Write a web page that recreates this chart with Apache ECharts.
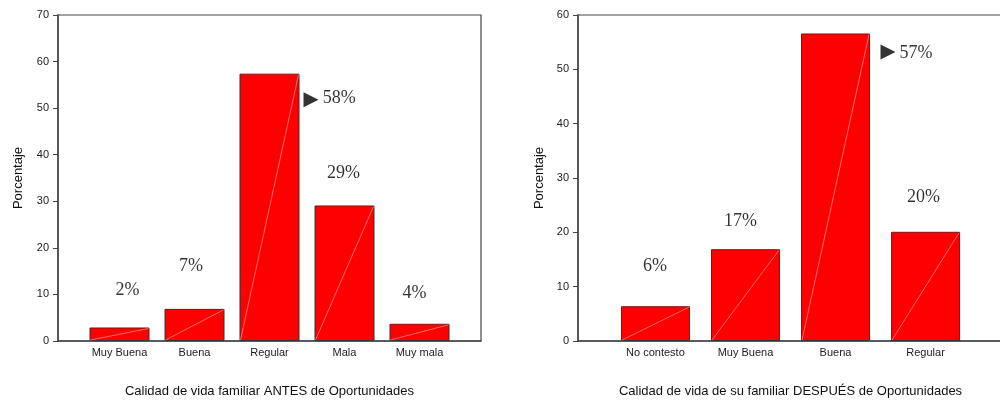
<!DOCTYPE html>
<html><head><meta charset="utf-8">
<script src="https://cdn.jsdelivr.net/npm/echarts@6/dist/echarts.min.js"></script>
<style>html,body{margin:0;padding:0;background:#fff}#c{width:1000px;height:400px}</style>
</head><body><div id="c"></div>
<script>
// Left chart data
const catsA = ['Muy Buena', 'Buena', 'Regular', 'Mala', 'Muy mala'];
const valsA = [2.9, 6.9, 57.4, 29.1, 3.7];
const labelsA = ['2%', '7%', '58%', '29%', '4%'];
const titleA = 'Calidad de vida familiar ANTES de Oportunidades';
// Right chart data
const catsB = ['No contesto', 'Muy Buena', 'Buena', 'Regular'];
const valsB = [6.4, 16.9, 56.6, 20.1];
const labelsB = ['6%', '17%', '57%', '20%'];
const titleB = 'Calidad de vida de su familiar DESPUÉS de Oportunidades';
const yName = 'Porcentaje';
const yTicksA = {min: 0, max: 70, interval: 10};
const yTicksB = {min: 0, max: 60, interval: 10};

// annotation anchors in data coordinates [x, y]
const annA = [[0.107, 10.9], [0.953, 16.1], [2.93, 52.1], [2.987, 36.0], [3.933, 10.3]];
const arrowA = [2.553, 51.8];
const annB = [[-0.006, 13.8], [0.944, 22.1], [2.894, 53.0], [2.978, 26.5]];
const arrowB = [2.583, 53.2];

const sans = 'Liberation Sans, Arial, sans-serif';
const serif = 'Liberation Serif, Times New Roman, serif';
const axisCol = '#444';

function xAx(gi, cats, min, max, name) {
  return {
    type: 'value', gridIndex: gi, min: min, max: max,
    name: name, nameLocation: 'middle', nameGap: 44,
    nameTextStyle: {fontFamily: sans, fontSize: 13, color: '#111'},
    axisLine: {show: true, onZero: false, lineStyle: {color: axisCol, width: 1.5}},
    axisTick: {show: false},
    splitLine: {show: false},
    axisLabel: {customValues: cats.map((c, i) => i), formatter: v => cats[Math.round(v)],
      fontFamily: sans, fontSize: 11, color: '#222', margin: 6}
  };
}
function yAx(gi, t, gap) {
  return {
    type: 'value', gridIndex: gi, min: t.min, max: t.max, interval: t.interval,
    name: yName, nameLocation: 'middle', nameGap: gap, nameRotate: 90,
    nameTextStyle: {fontFamily: sans, fontSize: 13, color: '#111'},
    axisLine: {show: true, onZero: false, lineStyle: {color: axisCol, width: 1.5}},
    axisTick: {show: true, length: 5, lineStyle: {color: axisCol}},
    splitLine: {show: false},
    axisLabel: {fontFamily: sans, fontSize: 11, color: '#222', margin: 9}
  };
}
function barS(xi, vals, bw) {
  return {
    type: 'bar', xAxisIndex: xi, yAxisIndex: xi, barWidth: bw,
    data: vals.map((v, i) => [i, v]),
    itemStyle: {color: '#ff0000', borderColor: '#333', borderWidth: 1},
    silent: true, z: 2
  };
}
function diagS(xi, vals, bw) {
  return {
    type: 'custom', xAxisIndex: xi, yAxisIndex: xi, z: 3, silent: true,
    data: vals.map((v, i) => [i, v]),
    renderItem: function (params, api) {
      const p0 = api.coord([api.value(0), 0]);
      const p1 = api.coord([api.value(0), api.value(1)]);
      const hw = bw / 2 - 1;
      return {type: 'line', shape: {x1: p0[0] - hw, y1: p0[1] - 1, x2: p1[0] + hw, y2: p1[1] + 1},
        style: {stroke: 'rgba(255,200,200,0.9)', lineWidth: 0.6}};
    }
  };
}
function annS(xi, pts, labels) {
  return {
    type: 'scatter', xAxisIndex: xi, yAxisIndex: xi, symbolSize: 1, silent: true, z: 5,
    itemStyle: {color: 'transparent'},
    data: pts.map((p, i) => [p[0], p[1], labels[i]]),
    label: {show: true, position: 'inside', formatter: p => p.data[2],
      fontFamily: serif, fontSize: 18, color: '#000'}
  };
}
function arrS(xi, p) {
  return {
    type: 'scatter', xAxisIndex: xi, yAxisIndex: xi, symbol: 'triangle', symbolSize: [15, 15],
    symbolRotate: -90, silent: true, z: 5, itemStyle: {color: '#000'}, data: [p]
  };
}

const chart = echarts.init(document.getElementById('c'), null, {renderer: 'canvas'});
chart.setOption({
  animation: false,
  backgroundColor: '#fff',
  grid: [
    {left: 58, top: 15, width: 423, height: 326, show: true, borderColor: axisCol, borderWidth: 1.2,
     backgroundColor: 'transparent', outerBoundsMode: 'none', containLabel: false},
    {left: 578, top: 15, width: 425, height: 326, show: true, borderColor: axisCol, borderWidth: 1.2,
     backgroundColor: 'transparent', outerBoundsMode: 'none', containLabel: false}
  ],
  xAxis: [xAx(0, catsA, -0.82, 4.82, titleA), xAx(1, catsB, -0.86, 3.86, titleB)],
  yAxis: [yAx(0, yTicksA, 33), yAx(1, yTicksB, 32)],
  series: [
    barS(0, valsA, 60), diagS(0, valsA, 60), annS(0, annA, labelsA), arrS(0, arrowA),
    barS(1, valsB, 69), diagS(1, valsB, 69), annS(1, annB, labelsB), arrS(1, arrowB)
  ]
});
</script></body></html>
